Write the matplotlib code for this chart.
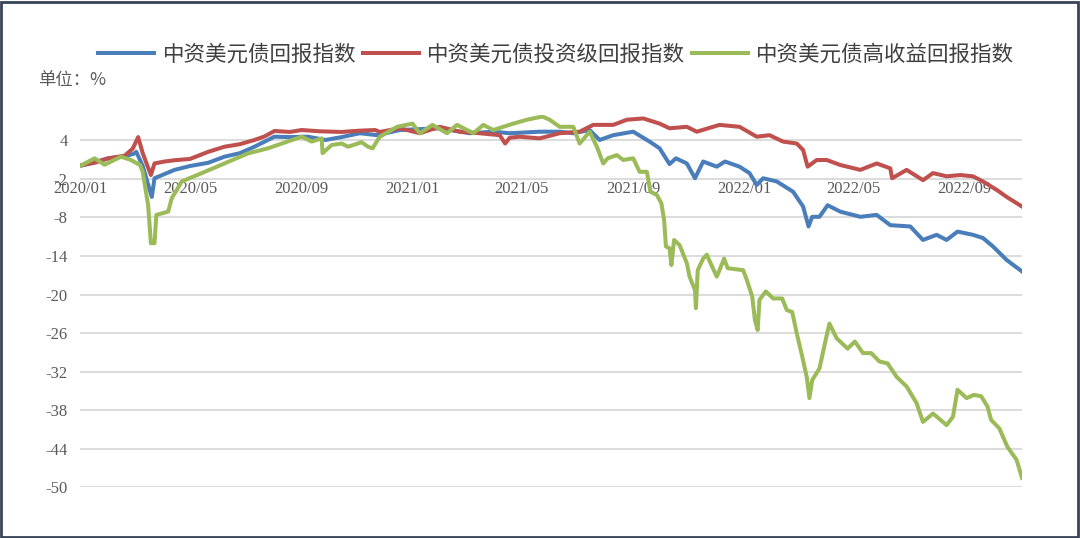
import pandas as pd
import matplotlib.pyplot as plt
import matplotlib.dates as mdates
from matplotlib.patches import Rectangle

plt.rcParams['font.family'] = ['Noto Sans CJK SC', 'DejaVu Sans']
plt.rcParams['axes.unicode_minus'] = False

# 中资美元债回报指数
blue_dates = ['2020-01-01', '2020-01-17', '2020-02-01', '2020-02-19', '2020-02-29', '2020-03-03',
              '2020-03-10', '2020-03-20', '2020-03-23', '2020-04-14', '2020-05-01', '2020-05-21',
              '2020-06-08', '2020-06-25', '2020-07-11', '2020-08-02', '2020-08-19', '2020-09-08',
              '2020-09-27', '2020-10-15', '2020-11-04', '2020-11-23', '2020-12-18', '2021-01-31',
              '2021-03-05', '2021-03-31', '2021-04-18', '2021-05-21', '2021-06-12', '2021-06-27',
              '2021-07-15', '2021-07-26', '2021-08-10', '2021-09-01', '2021-09-19', '2021-09-30',
              '2021-10-11', '2021-10-18', '2021-10-30', '2021-11-08', '2021-11-17', '2021-12-02',
              '2021-12-11', '2021-12-27', '2022-01-07', '2022-01-15', '2022-01-22', '2022-02-06',
              '2022-02-24', '2022-03-07', '2022-03-13', '2022-03-17', '2022-03-25', '2022-04-03',
              '2022-04-17', '2022-05-09', '2022-05-27', '2022-06-11', '2022-07-03', '2022-07-17',
              '2022-08-01', '2022-08-12', '2022-08-24', '2022-09-10', '2022-09-21', '2022-10-02',
              '2022-10-17', '2022-11-03']
blue_vals = [0.0, 0.6, 1.2, 1.5, 1.9, 2.2,
             0.0, -4.8, -1.9, -0.6, 0.0, 0.5,
             1.45, 2.0, 3.0, 4.56, 4.5, 4.56,
             4.05, 4.5, 5.1, 4.8, 5.6, 5.87,
             5.1, 5.34, 5.1, 5.34, 5.34, 5.1,
             5.6, 4.05, 4.8, 5.34, 3.8, 2.76,
             0.3, 1.2, 0.4, -1.9, 0.7, -0.1,
             0.7, -0.1, -1.1, -2.95, -1.9, -2.4,
             -4.0, -6.3, -9.4, -7.9, -7.9, -6.1,
             -7.1, -7.9, -7.6, -9.2, -9.4, -11.5,
             -10.7, -11.5, -10.2, -10.7, -11.2, -12.5,
             -14.6, -16.4]

# 中资美元债投资级回报指数
red_dates = ['2020-01-01', '2020-01-17', '2020-02-01', '2020-02-19', '2020-02-28', '2020-03-05',
             '2020-03-10', '2020-03-19', '2020-03-23', '2020-04-03', '2020-04-14', '2020-05-01',
             '2020-05-21', '2020-06-08', '2020-06-25', '2020-07-11', '2020-07-22', '2020-08-02',
             '2020-08-19', '2020-09-01', '2020-09-21', '2020-10-15', '2020-11-04', '2020-11-21',
             '2020-11-26', '2020-12-18', '2021-01-09', '2021-01-31', '2021-02-22', '2021-03-16',
             '2021-04-07', '2021-04-13', '2021-04-18', '2021-04-29', '2021-05-21', '2021-06-12',
             '2021-07-04', '2021-07-19', '2021-08-10', '2021-08-25', '2021-09-12', '2021-09-30',
             '2021-10-11', '2021-10-30', '2021-11-10', '2021-12-05', '2021-12-27', '2022-01-15',
             '2022-01-29', '2022-02-13', '2022-02-28', '2022-03-07', '2022-03-12', '2022-03-22',
             '2022-04-02', '2022-04-17', '2022-05-09', '2022-05-27', '2022-06-11', '2022-06-13',
             '2022-06-29', '2022-07-17', '2022-07-28', '2022-08-12', '2022-08-27', '2022-09-10',
             '2022-09-21', '2022-10-06', '2022-10-17', '2022-11-03']
red_vals = [0.1, 0.5, 1.2, 1.6, 2.7, 4.5,
            2.0, -1.4, 0.4, 0.7, 0.9, 1.1,
            2.2, 3.0, 3.4, 4.05, 4.6, 5.45,
            5.3, 5.6, 5.4, 5.3, 5.5, 5.6,
            5.3, 5.87, 5.1, 6.1, 5.34, 5.1,
            4.8, 3.5, 4.4, 4.56, 4.3, 5.1,
            5.34, 6.4, 6.4, 7.2, 7.4, 6.6,
            5.87, 6.1, 5.34, 6.4, 6.1, 4.56,
            4.8, 3.8, 3.5, 2.5, -0.1, 0.94,
            0.94, 0.16, -0.6, 0.4, -0.36, -1.9,
            -0.6, -2.2, -1.1, -1.6, -1.4, -1.6,
            -2.4, -3.7, -4.8, -6.3]

# 中资美元债高收益回报指数
green_dates = ['2020-01-01', '2020-01-17', '2020-01-28', '2020-02-15', '2020-02-26', '2020-03-07',
               '2020-03-10', '2020-03-16', '2020-03-19', '2020-03-23', '2020-03-25', '2020-04-07',
               '2020-04-11', '2020-04-22', '2020-05-14', '2020-06-08', '2020-07-04', '2020-07-26',
               '2020-09-01', '2020-09-12', '2020-09-23', '2020-09-24', '2020-10-04', '2020-10-15',
               '2020-10-22', '2020-11-06', '2020-11-13', '2020-11-18', '2020-11-26', '2020-12-15',
               '2021-01-01', '2021-01-09', '2021-01-23', '2021-02-08', '2021-02-19', '2021-03-09',
               '2021-03-20', '2021-03-31', '2021-04-22', '2021-05-07', '2021-05-24', '2021-06-01',
               '2021-06-12', '2021-06-27', '2021-07-04', '2021-07-15', '2021-07-23', '2021-07-30',
               '2021-08-04', '2021-08-14', '2021-08-21', '2021-09-01', '2021-09-08', '2021-09-16',
               '2021-09-20', '2021-09-27', '2021-10-02', '2021-10-05', '2021-10-07', '2021-10-11',
               '2021-10-13', '2021-10-16', '2021-10-22', '2021-10-30', '2021-11-02', '2021-11-08',
               '2021-11-09', '2021-11-11', '2021-11-17', '2021-11-21', '2021-11-27', '2021-12-02',
               '2021-12-05', '2021-12-10', '2021-12-14', '2021-12-31', '2022-01-04', '2022-01-10',
               '2022-01-13', '2022-01-16', '2022-01-18', '2022-01-25', '2022-02-02', '2022-02-12',
               '2022-02-17', '2022-02-23', '2022-02-28', '2022-03-06', '2022-03-11', '2022-03-14',
               '2022-03-17', '2022-03-25', '2022-03-31', '2022-04-05', '2022-04-13', '2022-04-25',
               '2022-05-03', '2022-05-12', '2022-05-21', '2022-05-30', '2022-06-08', '2022-06-18',
               '2022-06-29', '2022-07-10', '2022-07-17', '2022-07-28', '2022-08-12', '2022-08-19',
               '2022-08-24', '2022-09-03', '2022-09-11', '2022-09-19', '2022-09-26', '2022-09-30',
               '2022-10-09', '2022-10-18', '2022-10-28', '2022-11-03']
green_vals = [0.0, 1.2, 0.2, 1.45, 0.94, 0.16,
              -0.9, -6.1, -12.0, -12.0, -7.6, -7.1,
              -5.0, -2.4, -1.1, 0.4, 1.97, 2.76,
              4.56, 3.8, 4.3, 2.0, 3.27, 3.5,
              3.0, 3.7, 3.0, 2.76, 4.56, 6.1,
              6.6, 5.1, 6.4, 5.1, 6.4, 5.1,
              6.4, 5.6, 6.6, 7.2, 7.7, 7.2,
              6.1, 6.1, 3.5, 5.34, 3.0, 0.4,
              1.2, 1.7, 0.94, 1.2, -0.9, -0.9,
              -4.0, -4.5, -5.8, -8.4, -12.5, -12.8,
              -15.4, -11.5, -12.3, -15.1, -17.2, -19.3,
              -22.1, -16.2, -14.4, -13.8, -15.7, -17.2,
              -16.2, -14.4, -15.9, -16.2, -17.7, -20.3,
              -24.0, -25.5, -20.8, -19.5, -20.6, -20.6,
              -22.4, -22.7, -26.0, -29.6, -32.8, -36.1,
              -33.3, -31.5, -27.6, -24.5, -26.8, -28.4,
              -27.3, -29.1, -29.1, -30.4, -30.7, -32.8,
              -34.3, -36.9, -39.8, -38.5, -40.3, -39.0,
              -34.8, -36.1, -35.6, -35.8, -37.4, -39.5,
              -40.8, -43.7, -45.7, -48.5]

labels = ['中资美元债回报指数', '中资美元债投资级回报指数', '中资美元债高收益回报指数']
colors = ['#4a7ebb', '#c0504d', '#9bbb59']
y_ticks = [4, -2, -8, -14, -20, -26, -32, -38, -44, -50]

fig = plt.figure(figsize=(10.8, 5.38), dpi=100)
ax = fig.add_axes([0.0741, 0.0939, 0.8722, 0.6931])

series = [(blue_dates, blue_vals), (red_dates, red_vals), (green_dates, green_vals)]
for (d, v), lab, c in zip(series, labels, colors):
    ax.plot(pd.to_datetime(d), v, color=c, lw=2.9, label=lab, solid_joinstyle='round')

ax.set_xlim(pd.Timestamp('2020-01-01'), pd.Timestamp('2022-11-03'))
ax.set_ylim(-50, 8)
ax.set_yticks(y_ticks)
ax.yaxis.grid(True, color='#d9d9d9', lw=1.3)
ax.set_axisbelow(True)

ax.xaxis.set_major_locator(mdates.MonthLocator(bymonth=[1, 5, 9]))
ax.xaxis.set_major_formatter(mdates.DateFormatter('%Y/%m'))

for s in ['top', 'right', 'left']:
    ax.spines[s].set_visible(False)
# x labels hang under the zero line, as in the original
ax.spines['bottom'].set_position(('data', 0))
ax.spines['bottom'].set_visible(False)

ax.tick_params(axis='x', length=0, pad=11, labelsize=12, labelcolor='#595959')
ax.tick_params(axis='y', length=0, pad=9, labelsize=12, labelcolor='#595959')
for t in ax.get_xticklabels() + ax.get_yticklabels():
    t.set_fontfamily(['Liberation Serif', 'DejaVu Serif'])

leg = fig.legend(loc='center', bbox_to_anchor=(0.515, 0.898), ncol=3, frameon=False,
                 fontsize=15.5, handlelength=2.6, handletextpad=0.4, columnspacing=0.3,
                 labelcolor='#404040')

fig.text(0.035, 0.851, '单位：%', fontsize=12.5, color='#595959', va='center')

fig.patches.append(Rectangle((0.001, 0.002), 0.997, 0.995, transform=fig.transFigure,
                             fill=False, edgecolor='#3a4457', lw=2))

fig.savefig('out.png', dpi=100)
